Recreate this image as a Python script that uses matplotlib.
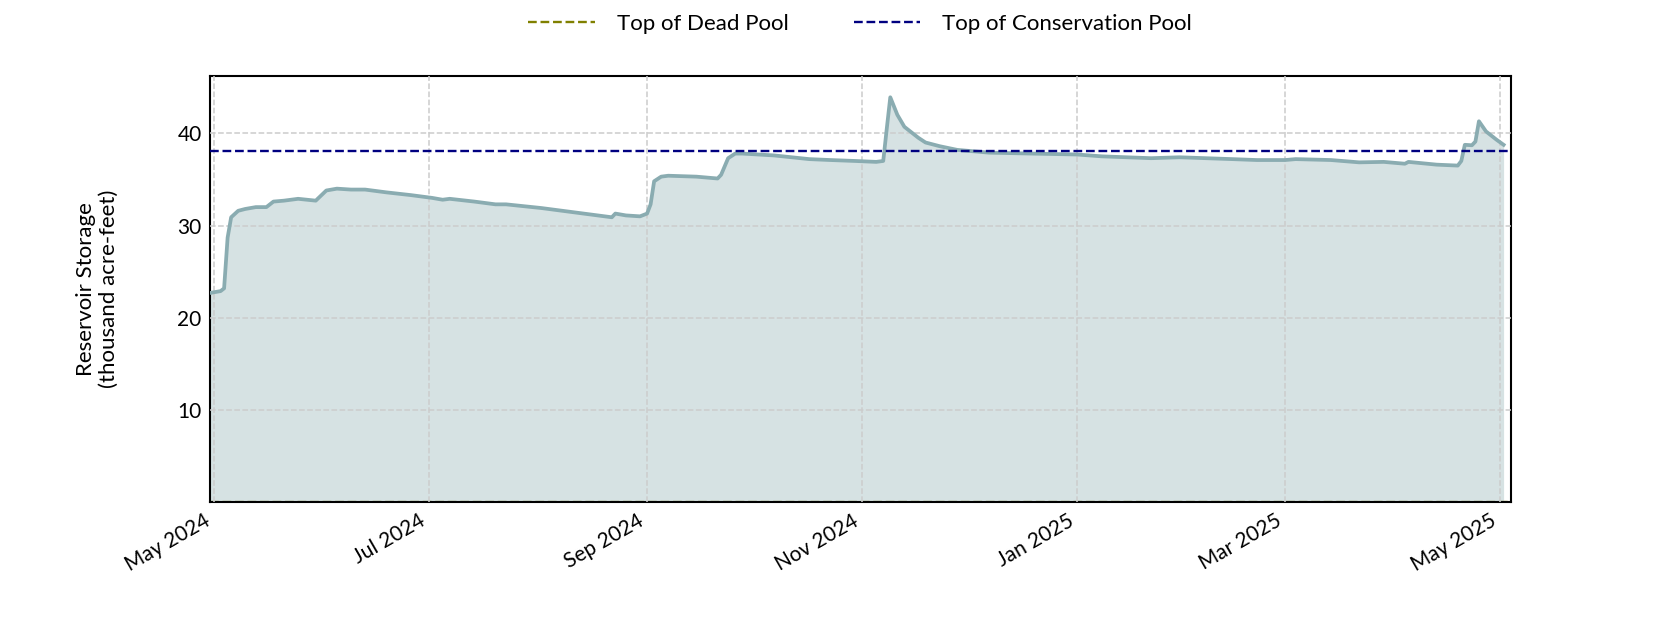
import matplotlib
matplotlib.use("Agg")
import matplotlib.pyplot as plt
import matplotlib.dates as mdates
import pandas as pd

plt.rcParams['font.family'] = ['Lato', 'DejaVu Sans']

dates = [
    "2024-04-30", "2024-05-03", "2024-05-04", "2024-05-05", "2024-05-06", "2024-05-08",
    "2024-05-10", "2024-05-13", "2024-05-16", "2024-05-18", "2024-05-21", "2024-05-25",
    "2024-05-30", "2024-06-02", "2024-06-05", "2024-06-09", "2024-06-13", "2024-06-19",
    "2024-06-26", "2024-07-02", "2024-07-05", "2024-07-07", "2024-07-14", "2024-07-20",
    "2024-07-23", "2024-08-02", "2024-08-04", "2024-08-14", "2024-08-22", "2024-08-23",
    "2024-08-26", "2024-08-30", "2024-09-01", "2024-09-02", "2024-09-03", "2024-09-05",
    "2024-09-07", "2024-09-15", "2024-09-21", "2024-09-22", "2024-09-24", "2024-09-26",
    "2024-09-28", "2024-10-07", "2024-10-12", "2024-10-17", "2024-10-23", "2024-10-30",
    "2024-11-05", "2024-11-07", "2024-11-08", "2024-11-09", "2024-11-11", "2024-11-13",
    "2024-11-17", "2024-11-19", "2024-11-23", "2024-11-28", "2024-12-07", "2024-12-19",
    "2025-01-01", "2025-01-08", "2025-01-22", "2025-01-30", "2025-02-14", "2025-02-21",
    "2025-03-01", "2025-03-04", "2025-03-14", "2025-03-22", "2025-03-29", "2025-04-04",
    "2025-04-05", "2025-04-13", "2025-04-19", "2025-04-20", "2025-04-21", "2025-04-23",
    "2025-04-24", "2025-04-25", "2025-04-27", "2025-04-30", "2025-05-02",
]
storage = [
    22.7, 22.9, 23.2, 28.7, 30.9, 31.6,
    31.8, 32.0, 32.0, 32.6, 32.7, 32.9,
    32.7, 33.8, 34.0, 33.9, 33.9, 33.6,
    33.3, 33.0, 32.8, 32.9, 32.6, 32.3,
    32.3, 31.9, 31.8, 31.3, 30.9, 31.3,
    31.1, 31.0, 31.3, 32.3, 34.8, 35.3,
    35.4, 35.3, 35.1, 35.5, 37.3, 37.8,
    37.8, 37.6, 37.4, 37.2, 37.1, 37.0,
    36.9, 37.0, 40.5, 43.9, 42.0, 40.7,
    39.5, 39.0, 38.6, 38.2, 37.9, 37.8,
    37.7, 37.5, 37.3, 37.4, 37.2, 37.1,
    37.1, 37.2, 37.1, 36.85, 36.9, 36.7,
    36.9, 36.6, 36.5, 37.0, 38.75, 38.7,
    39.1, 41.3, 40.2, 39.3, 38.75,
]
dead_pool = 0.0
conservation_pool = 38.1
yticks = [10, 20, 30, 40]

x = pd.to_datetime(dates)

fig = plt.figure(figsize=(16.8, 6.3), dpi=100)
ax = fig.add_axes([0.125, 0.2024, 0.7742, 0.6769])

line_color = "#8aacb1"
ax.fill_between(x, 0, storage, color=line_color, alpha=0.35, linewidth=0, zorder=1)
ax.plot(x, storage, color=line_color, linewidth=2.7, zorder=3)
ax.axhline(dead_pool, color="#808000", linestyle="--", linewidth=1.7, zorder=0.5,
           label="Top of Dead Pool")
ax.axhline(conservation_pool, color="#000080", linestyle="--", linewidth=1.7, zorder=4,
           label="Top of Conservation Pool")

ax.set_xlim(pd.Timestamp("2024-04-30"), pd.Timestamp("2025-05-04"))
ax.set_ylim(0, 46.2)
ax.set_yticks(yticks)
ax.xaxis.set_major_locator(mdates.MonthLocator(bymonth=[1, 3, 5, 7, 9, 11]))
ax.xaxis.set_major_formatter(mdates.DateFormatter("%b %Y"))
ax.tick_params(axis="both", length=0, labelsize=15, pad=6)
for lab in ax.get_xticklabels():
    lab.set_rotation(30)
    lab.set_ha("right")

ax.grid(True, color="#cccccc", linestyle="--", linewidth=1.1)
ax.set_axisbelow(False)
for sp in ax.spines.values():
    sp.set_linewidth(1.5)
    sp.set_color("black")

ax.set_ylabel("Reservoir Storage\n(thousand acre-feet)", fontsize=16, labelpad=42)

ax.legend(loc="center", bbox_to_anchor=(0.5, 1.123), ncol=2, frameon=False,
          fontsize=16, handlelength=3.0, columnspacing=2.9, handletextpad=1.0)

fig.savefig("out.png", dpi=100)
